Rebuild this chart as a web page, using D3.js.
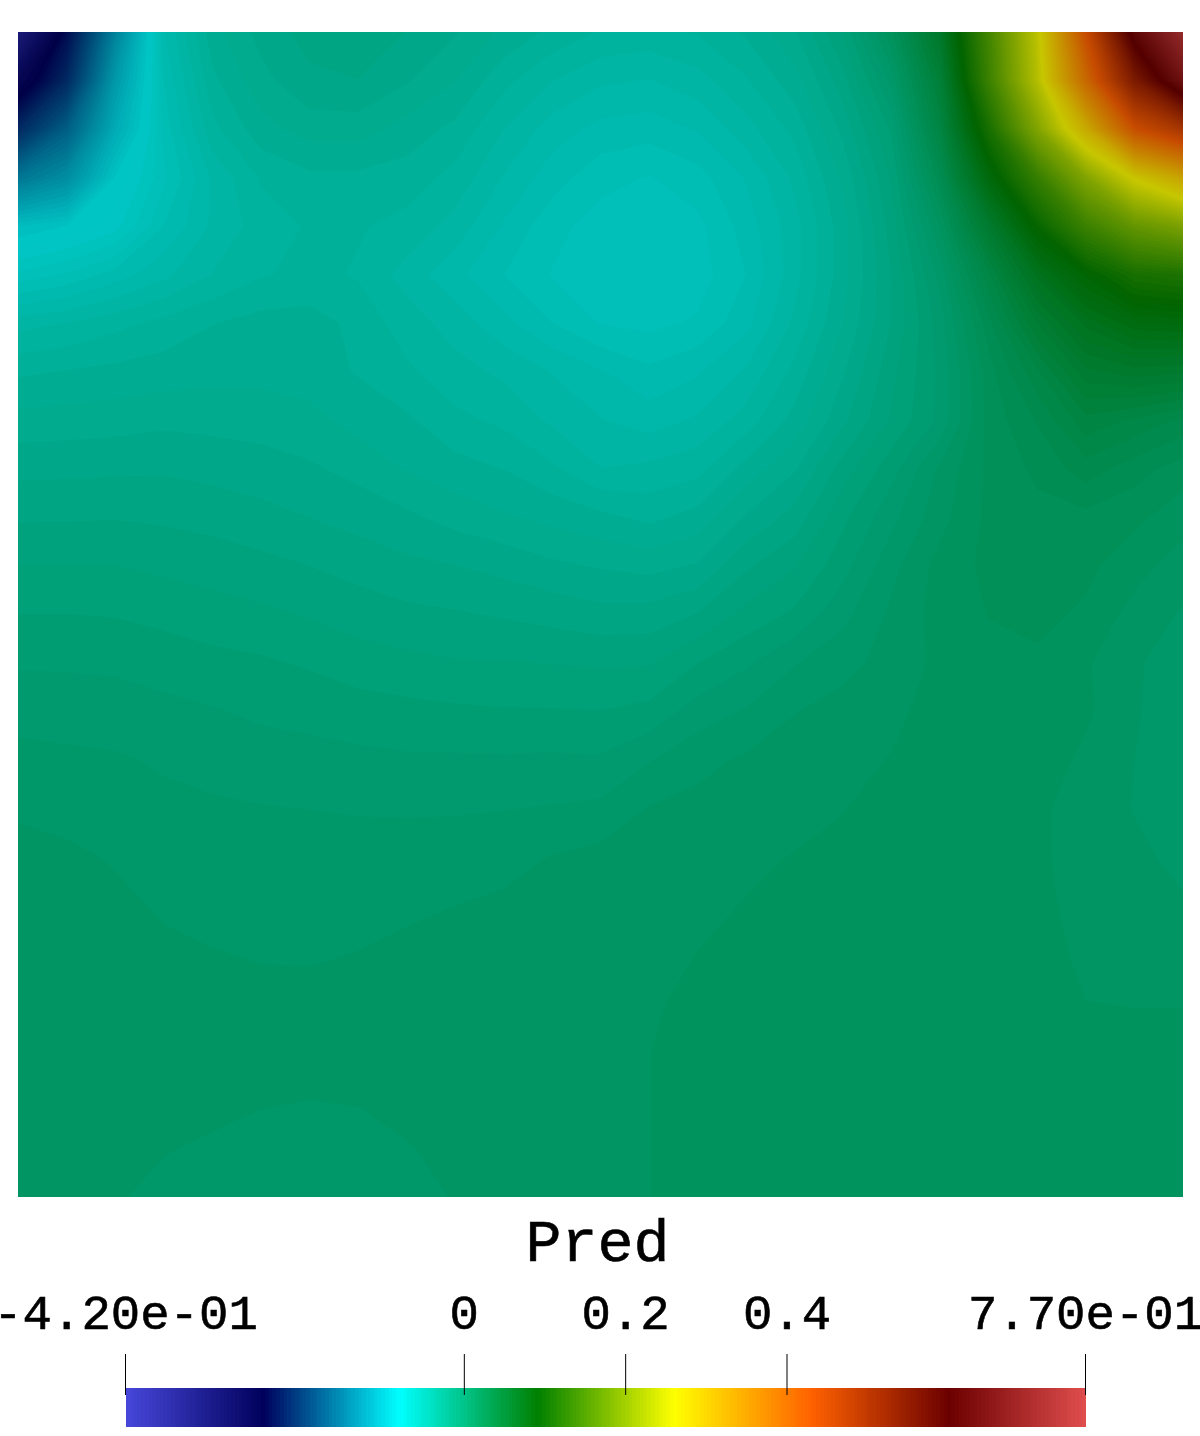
<!DOCTYPE html>
<html>
<head>
<meta charset="utf-8">
<script src="https://cdn.jsdelivr.net/npm/d3@7"></script>
<style>
  body { margin: 0; background: #fff; }
  svg { display: block; }
  text { font-family: "Liberation Mono", monospace; fill: #000; stroke: #000; stroke-width: 0.6px; }
</style>
</head>
<body>
<svg id="chart" width="1200" height="1436"></svg>
<script>
const colorTitle = "Pred";
const tickValues = [-0.42, 0, 0.2, 0.4, 0.77];
const tickLabels = ["-4.20e-01", "0", "0.2", "0.4", "7.70e-01"];

// Rainbow Desaturated colormap
const stopPositions = [0, 0.143, 0.285, 0.429, 0.571, 0.714, 0.857, 1];
const stopColors = ["#4747db", "#00005c", "#00ffff", "#008000", "#ffff00", "#ff6100", "#6b0000", "#e04d4d"];
const bandCount = 256;

// Pred sampled on a 25 x 25 grid across the square, top row first
const fieldRows = [
  [-.335,-.24,-.14,-.058,-.036,-.028,-.023,-.022,-.025,-.029,-.035,-.04,-.044,-.045,-.043,-.038,-.03,-.015,.012,.055,.147,.25,.43,.62,.72],
  [-.27,-.215,-.12,-.062,-.04,-.031,-.026,-.025,-.029,-.034,-.042,-.048,-.052,-.053,-.05,-.044,-.036,-.022,0,.042,.14,.243,.39,.54,.65],
  [-.215,-.17,-.105,-.065,-.045,-.036,-.032,-.032,-.036,-.04,-.048,-.055,-.059,-.06,-.057,-.05,-.042,-.028,-.01,.033,.11,.2,.3,.425,.48],
  [-.15,-.13,-.085,-.068,-.052,-.043,-.04,-.04,-.041,-.045,-.053,-.06,-.065,-.067,-.064,-.057,-.047,-.033,-.015,.02,.08,.135,.2,.265,.31],
  [-.09,-.085,-.078,-.062,-.052,-.046,-.043,-.043,-.045,-.05,-.058,-.065,-.069,-.07,-.068,-.06,-.05,-.036,-.018,.008,.05,.095,.14,.175,.195],
  [-.07,-.066,-.06,-.054,-.048,-.044,-.042,-.044,-.05,-.056,-.062,-.067,-.07,-.071,-.069,-.062,-.05,-.036,-.02,0,.03,.065,.088,.11,.115],
  [-.05,-.048,-.045,-.042,-.039,-.037,-.037,-.04,-.046,-.05,-.056,-.062,-.067,-.068,-.066,-.059,-.047,-.034,-.02,-.004,.02,.045,.065,.076,.078],
  [-.0397,-.0385,-.0375,-.0365,-.0356,-.0356,-.0364,-.0392,-.0425,-.0465,-.049,-.053,-.057,-.061,-.058,-.052,-.042,-.03,-.017,-.005,.015,.03,.048,.052,.05],
  [-.0325,-.032,-.0315,-.0306,-.031,-.0315,-.0327,-.0358,-.038,-.0422,-.0445,-.049,-.0525,-.055,-.052,-.046,-.037,-.026,-.015,-.005,.014,.022,.034,.03,.025],
  [-.0262,-.026,-.0257,-.0255,-.0264,-.0274,-.0288,-.031,-.0345,-.037,-.0389,-.0425,-.048,-.047,-.045,-.037,-.03,-.018,-.008,.004,.0135,.018,.024,.019,.0146],
  [-.0208,-.0207,-.0205,-.021,-.0219,-.0233,-.0249,-.0266,-.0285,-.0312,-.0335,-.0355,-.0375,-.04,-.037,-.029,-.023,-.012,-.003,.006,.0135,.0155,.0155,.0135,.0095],
  [-.0155,-.0155,-.0155,-.0166,-.0176,-.0188,-.0202,-.0219,-.0237,-.0248,-.0263,-.0285,-.03,-.031,-.029,-.021,-.016,-.008,.0015,.0095,.0135,.015,.0135,.0095,.0054],
  [-.0109,-.0109,-.0112,-.0122,-.0135,-.0146,-.016,-.0177,-.019,-.0197,-.0207,-.0218,-.0233,-.023,-.02,-.014,-.01,-.003,.004,.0095,.0125,.0135,.0115,.0058,.0025],
  [-.0068,-.0069,-.0072,-.0085,-.0095,-.0102,-.0115,-.0133,-.0143,-.0152,-.0153,-.0157,-.0162,-.016,-.011,-.007,-.002,.0015,.0048,.0088,.0105,.0115,.0082,.0035,.001],
  [-.0033,-.0036,-.004,-.0048,-.0059,-.0071,-.0078,-.0088,-.0095,-.0101,-.0105,-.0106,-.0108,-.0095,-.004,-.0012,.0028,.0048,.007,.0088,.0105,.011,.0085,.0035,0],
  [-.0002,-.0007,-.0011,-.0022,-.0032,-.0042,-.0046,-.0051,-.0056,-.0056,-.0056,-.0055,-.0056,-.002,.0015,.0038,.0058,.0068,.0078,.0095,.0105,.0105,.0065,.003,.0003],
  [.0026,.0018,.0005,-.0005,-.001,-.0014,-.0017,-.002,-.0022,-.0021,-.0018,-.0013,-.0006,.0033,.0045,.0055,.0065,.0075,.0095,.0105,.0105,.0085,.0055,.0028,.0005],
  [.004,.0037,.0027,.001,.0006,.0004,0,.0002,.0006,.0008,.0015,.0032,.0046,.006,.0062,.007,.0078,.0088,.0095,.0105,.0105,.0085,.0055,.004,.0018],
  [.0045,.0045,.0038,.0026,.0018,.0012,.001,.0018,.0024,.003,.0038,.0048,.0058,.0062,.007,.0078,.0088,.0095,.0105,.0105,.0105,.0085,.0065,.005,.0035],
  [.005,.005,.0045,.0037,.0032,.0027,.0026,.0031,.0038,.0042,.0048,.0055,.006,.0065,.0077,.009,.0098,.0105,.0105,.0105,.0105,.0092,.0068,.0062,.0058],
  [.0055,.0055,.0052,.0048,.0045,.0042,.0042,.0045,.005,.0055,.006,.0063,.0066,.0072,.0085,.0095,.0105,.0105,.0105,.0105,.0105,.01,.0077,.0075,.0075],
  [.0058,.0058,.0056,.0052,.0048,.0045,.0045,.0048,.0052,.0056,.006,.0064,.0068,.0076,.0088,.0098,.0105,.0105,.0105,.0105,.0105,.0105,.0095,.009,.009],
  [.0055,.0055,.0052,.0045,.004,.0033,.003,.0032,.004,.0048,.0055,.0062,.0068,.0076,.009,.0098,.0105,.0105,.0105,.0105,.0105,.0105,.0105,.0105,.0105],
  [.0055,.0052,.0045,.0032,.0025,.0018,.0015,.0018,.0028,.0038,.005,.006,.0068,.0076,.009,.0098,.0105,.0105,.0105,.0105,.0105,.0105,.0105,.0105,.0105],
  [.0055,.0048,.0033,.0022,.0015,.001,.001,.001,.0018,.0032,.0045,.0055,.0065,.0076,.009,.0098,.0105,.0105,.0105,.0105,.0105,.0105,.0105,.0105,.0105]
];

const svg = d3.select("#chart");

const valueMin = tickValues[0];
const valueMax = tickValues[tickValues.length - 1];
const bandStep = (valueMax - valueMin) / bandCount;

const ramp = d3.scaleLinear()
  .domain(stopPositions.map(p => valueMin + p * (valueMax - valueMin)))
  .range(stopColors)
  .interpolate(d3.interpolateRgb);

// colour of band k, the surface is lit so it comes out darker than the legend
const fieldShade = 0.78;
function bandColor(k) {
  return ramp(valueMin + (k + 0.5) * bandStep);
}
function litColor(k) {
  const c = d3.rgb(bandColor(k));
  return d3.rgb(c.r * fieldShade, c.g * fieldShade, c.b * fieldShade).formatRgb();
}

const bands = d3.range(bandCount);

// the field
const rows = fieldRows.length;
const cols = fieldRows[0].length;
const plot = { x0: 18, x1: 1183, y0: 32, y1: 1197 };

const gridX = d3.scaleLinear().domain([0.5, cols - 0.5]).range([plot.x0, plot.x1]);
const gridY = d3.scaleLinear().domain([0.5, rows - 0.5]).range([plot.y0, plot.y1]);

svg.append("clipPath").attr("id", "plot-clip")
  .append("rect")
  .attr("x", plot.x0).attr("y", plot.y0)
  .attr("width", plot.x1 - plot.x0).attr("height", plot.y1 - plot.y0);

const contours = d3.contours()
  .size([cols, rows])
  .thresholds(bands.map(k => valueMin + k * bandStep))(fieldRows.flat());

const gridPath = d3.geoPath(d3.geoTransform({
  point(x, y) { this.stream.point(gridX(x), gridY(y)); }
}));

svg.append("g")
  .attr("clip-path", "url(#plot-clip)")
  .selectAll("path")
  .data(contours.filter(c => c.coordinates.length))
  .join("path")
  .attr("d", gridPath)
  .attr("fill", d => litColor(Math.round((d.value - valueMin) / bandStep)));

// title
svg.append("text")
  .attr("x", 597.5)
  .attr("y", 1261)
  .attr("text-anchor", "middle")
  .style("font-size", "60px")
  .text(colorTitle);

// colour bar
const legendX = d3.scaleLinear().domain([valueMin, valueMax]).range([126, 1086]);

svg.append("g")
  .attr("shape-rendering", "crispEdges")
  .selectAll("rect")
  .data(bands)
  .join("rect")
  .attr("x", k => Math.round(legendX(valueMin + k * bandStep)))
  .attr("y", 1388)
  .attr("width", k => Math.round(legendX(valueMin + (k + 1) * bandStep)) - Math.round(legendX(valueMin + k * bandStep)))
  .attr("height", 39)
  .attr("fill", bandColor);

const legendAxis = d3.axisTop(legendX)
  .tickValues(tickValues)
  .tickFormat((d, i) => tickLabels[i])
  .tickSize(41)
  .tickPadding(25);

const axisG = svg.append("g")
  .attr("transform", "translate(-1,1395)")
  .call(legendAxis);

axisG.select(".domain").remove();
axisG.selectAll("line").attr("stroke", "#000");
axisG.selectAll("text")
  .attr("font-family", null)
  .style("font-size", "49px");
</script>
</body>
</html>
